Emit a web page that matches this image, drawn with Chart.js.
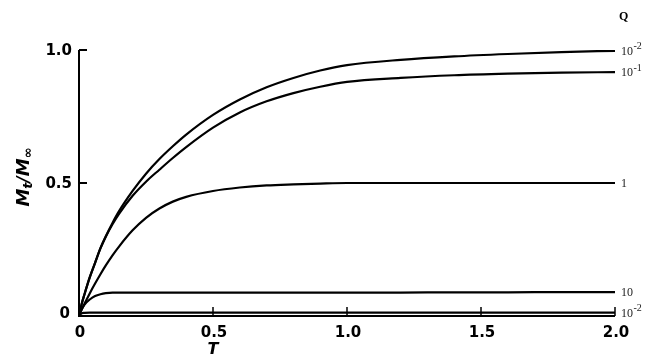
<!DOCTYPE html>
<html>
<head>
<meta charset="utf-8">
<script src="https://cdn.jsdelivr.net/npm/chart.js@4.4.0/dist/chart.umd.min.js"></script>
<style>
html,body{margin:0;padding:0;background:#fff;}
#wrap{width:649px;height:358px;position:relative;}
</style>
</head>
<body>
<div id="wrap"><canvas id="c" width="649" height="358"></canvas></div>
<script>
// ---- data ----
const T    = [0, 0.01, 0.02, 0.04, 0.06, 0.08, 0.1, 0.125, 0.15, 0.2, 0.25, 0.3, 0.35, 0.4, 0.5, 0.6, 0.7, 0.8, 0.9, 1.0, 1.2, 1.4, 1.6, 1.8, 2.0];
const q001 = [0, 0.045, 0.08, 0.145, 0.2, 0.255, 0.3, 0.35, 0.395, 0.47, 0.535, 0.59, 0.638, 0.682, 0.756, 0.814, 0.86, 0.895, 0.923, 0.943, 0.963, 0.976, 0.985, 0.992, 0.997];
const q01  = [0, 0.045, 0.08, 0.145, 0.2, 0.254, 0.298, 0.345, 0.385, 0.452, 0.505, 0.55, 0.594, 0.635, 0.708, 0.765, 0.807, 0.838, 0.862, 0.88, 0.895, 0.905, 0.911, 0.915, 0.917];
const q1   = [0, 0.024, 0.045, 0.085, 0.122, 0.157, 0.19, 0.228, 0.262, 0.322, 0.369, 0.404, 0.43, 0.448, 0.47, 0.483, 0.491, 0.495, 0.498, 0.5, 0.5, 0.5, 0.5, 0.5, 0.5];
const q10  = [0, 0.025, 0.042, 0.062, 0.075, 0.082, 0.086, 0.088, 0.088, 0.088, 0.088, 0.088, 0.088, 0.088, 0.088, 0.088, 0.088, 0.088, 0.088, 0.088, 0.088, 0.089, 0.089, 0.09, 0.09];
const q100 = [0, 0.01, 0.012, 0.013, 0.013, 0.013, 0.013, 0.013, 0.013, 0.013, 0.013, 0.013, 0.013, 0.013, 0.013, 0.013, 0.013, 0.013, 0.013, 0.013, 0.013, 0.013, 0.013, 0.013, 0.013];
const seriesLabels = [["10","-2"], ["10","-1"], ["1",""], ["10",""], ["10","-2"]];
const xTicks = [0, 0.5, 1.0, 1.5, 2.0];
const xTickLabels = ["0", "0.5", "1.0", "1.5", "2.0"];
const yTicks = [0, 0.5, 1.0];
const yTickLabels = ["0", "0.5", "1.0"];
const legendTitle = "Q";

function pts(ys){ return T.map((t,i)=>({x:t,y:ys[i]})); }
const all = [q001, q01, q1, q10, q100];

const axesPlugin = {
  id: 'axesPlugin',
  afterDraw(chart){
    const ctx = chart.ctx;
    const xs = chart.scales.x, ys = chart.scales.y;
    const x0 = xs.getPixelForValue(0), x2 = xs.getPixelForValue(2);
    const y0 = ys.getPixelForValue(0), y1 = ys.getPixelForValue(1);
    ctx.save();
    ctx.strokeStyle = '#000';
    ctx.lineWidth = 2;
    ctx.lineCap = 'butt';
    ctx.beginPath();
    ctx.moveTo(x0, y1); ctx.lineTo(x0, y0); ctx.lineTo(x2, y0);
    ctx.stroke();
    yTicks.forEach(v=>{
      if (v===0) return;
      const p = ys.getPixelForValue(v);
      ctx.beginPath(); ctx.moveTo(x0, p); ctx.lineTo(x0+8, p); ctx.stroke();
    });
    ctx.lineWidth = 1.5;
    xTicks.forEach(v=>{
      if (v===0) return;
      const p = xs.getPixelForValue(v);
      ctx.beginPath(); ctx.moveTo(p, y0); ctx.lineTo(p, y0-9); ctx.stroke();
    });
    ctx.fillStyle = '#000';
    ctx.font = 'bold 15px "DejaVu Sans"';
    ctx.textBaseline = 'middle';
    ctx.textAlign = 'right';
    yTicks.forEach((v,i)=>{
      const p = ys.getPixelForValue(v);
      ctx.fillText(yTickLabels[i], v===0 ? x0-9 : x0-7, v===0 ? p-2 : p+1);
    });
    ctx.textAlign = 'center';
    xTicks.forEach((v,i)=>{
      const p = xs.getPixelForValue(v);
      ctx.fillText(xTickLabels[i], p+1, y0+17);
    });
    ctx.font = 'italic bold 16px "DejaVu Sans"';
    ctx.fillText('T', xs.getPixelForValue(0.5), y0+34);
    ctx.save();
    ctx.translate(23, 177);
    ctx.rotate(-Math.PI/2);
    ctx.textAlign = 'left';
    ctx.textBaseline = 'alphabetic';
    const parts = [['M',18,0],['t',13,3],['/',17,0],['M',18,0],['∞',13,3]];
    let w = 0;
    parts.forEach(p=>{ ctx.font = 'italic bold '+p[1]+'px "DejaVu Sans"'; w += ctx.measureText(p[0]).width; });
    let cx = -w/2;
    parts.forEach(p=>{
      ctx.font = 'italic bold '+p[1]+'px "DejaVu Sans"';
      ctx.fillText(p[0], cx, 6+p[2]);
      cx += ctx.measureText(p[0]).width;
    });
    ctx.restore();
    ctx.font = 'bold 12px "Liberation Serif"';
    ctx.textAlign = 'left';
    ctx.fillText(legendTitle, 619, 17);
    ctx.fillStyle = '#222';
    all.forEach((arr,i)=>{
      const yy = ys.getPixelForValue(arr[arr.length-1]);
      const xx = xs.getPixelForValue(T[T.length-1]) + 6;
      const [base, sup] = seriesLabels[i];
      ctx.font = '12px "Liberation Serif"';
      ctx.textBaseline = 'middle';
      ctx.fillText(base, xx, yy+1);
      if (sup){
        const bw = ctx.measureText(base).width;
        ctx.font = '10px "Liberation Serif"';
        ctx.fillText(sup, xx+bw+0.5, yy-4);
      }
    });
    ctx.restore();
  }
};

const ds = all.map(arr=>({
  data: pts(arr),
  borderColor: '#000',
  borderWidth: 2.2,
  pointRadius: 0,
  fill: false,
  cubicInterpolationMode: 'monotone'
}));

new Chart(document.getElementById('c'), {
  type: 'line',
  data: { datasets: ds },
  options: {
    responsive: false,
    animation: false,
    layout: { padding: { left: 79, right: 34, top: 50, bottom: 42 } },
    plugins: { legend: { display: false }, tooltip: { enabled: false } },
    scales: {
      x: { type: 'linear', min: 0, max: 2, display: false },
      y: { type: 'linear', min: 0, max: 1, display: false }
    }
  },
  plugins: [axesPlugin]
});
</script>
</body>
</html>
